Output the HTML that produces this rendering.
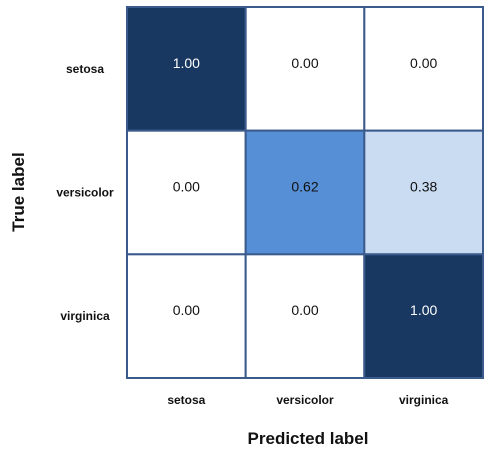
<!DOCTYPE html>
<html><head><meta charset="utf-8"><style>
html,body{margin:0;padding:0;background:#fff;}
svg{display:block;font-family:"Liberation Sans",sans-serif;}
</style></head><body>
<svg id="c" width="497" height="451"></svg>
<script>
const classes=["setosa","versicolor","virginica"];
const row0=[1.00,0.00,0.00];
const row1=[0.00,0.62,0.38];
const row2=[0.00,0.00,1.00];
const values=[row0,row1,row2];
const NS="http://www.w3.org/2000/svg";
const svg=document.getElementById('c');
const L=127,R=483,T=7,B=378;
const cw=(R-L)/classes.length, ch=(B-T)/classes.length;
function x(i){return L+i*cw;}
function y(i){return T+i*ch;}
function color(v){
  const lo=[255,255,255],mid=[86,143,214],hi=[25,56,97];
  let a,b,t;
  if(v<=0.62){a=lo;b=mid;t=v/0.62;}else{a=mid;b=hi;t=(v-0.62)/0.38;}
  if(v>0&&v<0.5){a=lo;b=[201,220,242];t=v/0.38;}
  return 'rgb('+a.map((c,k)=>Math.round(c+(b[k]-c)*Math.min(1,t))).join(',')+')';
}
function el(tag,attrs,txt){const e=document.createElementNS(NS,tag);for(const k in attrs)e.setAttribute(k,attrs[k]);if(txt!==undefined)e.textContent=txt;svg.appendChild(e);return e;}
values.forEach((r,i)=>r.forEach((v,j)=>{
  const rc=el('rect',{x:x(j),y:y(i),width:cw,height:ch,fill:color(v),stroke:'#3b5b8c','stroke-width':2});
  
  
  const t=el('text',{x:x(j)+cw/2,y:y(i)+ch/2-1,'text-anchor':'middle','font-size':14,fill:v>0.7?'#fff':'#111'},v.toFixed(2));
  
  
}));
classes.forEach((c,i)=>{
  const t=el('text',{x:85,y:y(i)+ch/2+4,'text-anchor':'middle','font-size':12,'font-weight':'bold',fill:'#111'},c);
  
  
  const u=el('text',{x:x(i)+cw/2,y:404,'text-anchor':'middle','font-size':12,'font-weight':'bold',fill:'#111'},c);
  
  
});
const yt=el('text',{x:0,y:0,transform:'translate(24,192) rotate(-90)','text-anchor':'middle','font-size':17,'font-weight':'bold',fill:'#111'},'True label');


const xt=el('text',{x:308,y:444,'text-anchor':'middle','font-size':17,'font-weight':'bold',fill:'#111'},'Predicted label');


</script>
</body></html>
